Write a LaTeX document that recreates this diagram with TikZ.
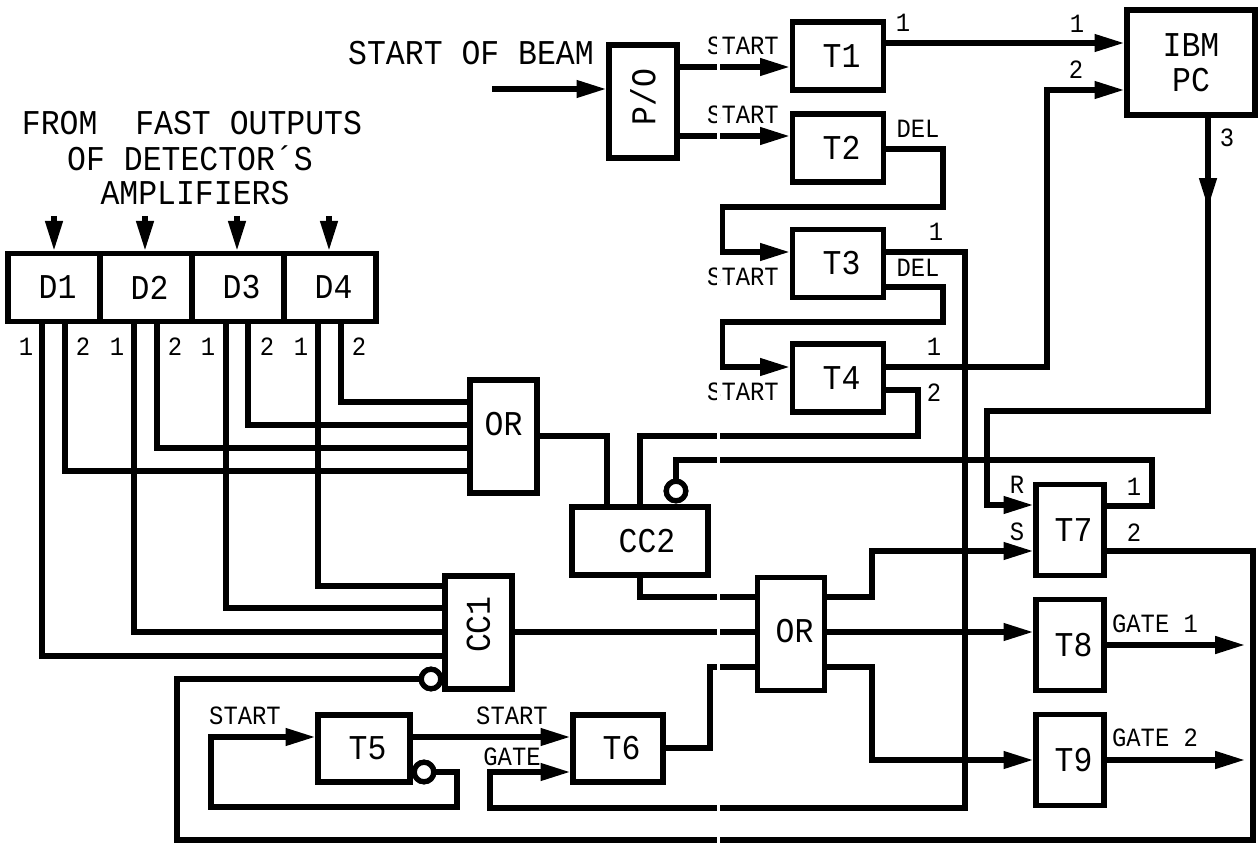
\documentclass[tikz,border=0pt]{standalone}
\usepackage{fontspec}
\usepackage{tikz}
\usetikzlibrary{arrows.meta,calc,positioning}
\newfontfamily\plotfont[FakeStretch=0.905]{Liberation Mono}
\newcommand{\nudge}{\hspace*{4pt}}

\begin{document}
\begin{tikzpicture}[x=0.02cm, y=-0.02cm,
    sig/.style={line width=3pt, line join=miter},
    sigarrow/.style={sig, -{Triangle[length=17pt,width=9.5pt]}},
    blockbox/.style={draw, rectangle, line width=3pt, inner sep=0pt, font=\plotfont\fontsize{19.8}{20}\selectfont},
    sized/.style 2 args={minimum width=#1*0.02cm, minimum height=#2*0.02cm},
    bubble/.style={draw, circle, line width=3pt, fill=white, inner sep=0pt, minimum size=0.39cm},
    tag/.style={inner sep=0pt, font=\plotfont\fontsize{15}{15}\selectfont},
    num/.style={inner sep=0pt, font=\plotfont\fontsize{15}{15}\selectfont},
    head/.style={inner sep=0pt, font=\plotfont\fontsize{19.8}{20}\selectfont}]
  \useasboundingbox (0,0) rectangle (1260,844);

  % Blocks
  \node[blockbox, sized={68}{113}] (po) at (643,101.5) {\rotatebox{90}{\hspace*{5pt}P/O}};
  \node[blockbox, sized={91}{68}] (t1) at (838,56) {\nudge T1};
  \node[blockbox, sized={91}{68}] (t2) at (838,148) {\nudge T2};
  \node[blockbox, sized={91}{68}] (t3) at (838,263.5) {\nudge T3};
  \node[blockbox, sized={91}{68}] (t4) at (838,378) {\nudge T4};
  \node[blockbox, sized={128}{105}, align=center] (ibm) at (1191,62.5) {IBM\\PC};
  \node[blockbox, sized={92}{68}] (d1) at (54,287.5) {\nudge D1};
  \node[blockbox, sized={92}{68}] (d2) at (146,287.5) {\nudge D2};
  \node[blockbox, sized={92}{68}] (d3) at (238,287.5) {\nudge D3};
  \node[blockbox, sized={92}{68}] (d4) at (330,287.5) {\nudge D4};
  \node[blockbox, sized={67}{113}, text depth=14pt] (orup) at (503.5,436.5) {OR};
  \node[blockbox, sized={136}{68}] (cc2) at (640,541) {\nudge\nudge CC2};
  \node[blockbox, sized={67}{113}] (cc1) at (478.5,632.5) {\rotatebox{90}{\hspace*{9pt}CC1}};
  \node[blockbox, sized={67}{113}, text depth=4pt] (orlow) at (791,634) {\nudge OR};
  \node[blockbox, sized={68}{91}] (t7) at (1070,530) {\nudge T7};
  \node[blockbox, sized={68}{91}] (t8) at (1070,645) {\nudge T8};
  \node[blockbox, sized={68}{91}] (t9) at (1070,760) {\nudge T9};
  \node[blockbox, sized={92}{67}] (t5) at (364,748.5) {\nudge T5};
  \node[blockbox, sized={90}{67}] (t6) at (618,748.5) {\nudge T6};

  % Inverting inputs and outputs
  \node[bubble] (cc2not) at (676,491) {};
  \node[bubble] (cc1not) at (431,679) {};
  \node[bubble] (t5not) at (424,772) {};

  % Free ends
  \coordinate (beam) at (492,89);
  \coordinate (ibmdown) at (1208,208);
  \coordinate (gateone) at (1245,645);
  \coordinate (gatetwo) at (1245,760);
  \coordinate (dinone) at (54,216);
  \coordinate (dintwo) at (145,216);
  \coordinate (dinthree) at (237,216);
  \coordinate (dinfour) at (329,216);

  % Input side
  \draw[sigarrow] (beam) -- (po.west |- beam);
  \draw[sigarrow] (dinone) -- (dinone |- d1.north);
  \draw[sigarrow] (dintwo) -- (dintwo |- d2.north);
  \draw[sigarrow] (dinthree) -- (dinthree |- d3.north);
  \draw[sigarrow] (dinfour) -- (dinfour |- d4.north);

  % Timers
  \draw[sigarrow] (po.east |- 0,67) -- (t1.west |- 0,67);
  \draw[sigarrow] (po.east |- 0,136) -- (t2.west |- 0,136);
  \draw[sigarrow] (t1.east |- 0,43) -- (ibm.west |- 0,43);
  \draw[sigarrow] (t2.east |- 0,149) -- (943,149) -- (943,207) -- (722.5,207) -- (722.5,252) -- (t3.west |- 0,252);
  \draw[sigarrow] (t3.east |- 0,287) -- (943,287) -- (943,322) -- (722.5,322) -- (722.5,367) -- (t4.west |- 0,367);
  \draw[sigarrow] (t4.east |- 0,367) -- (1047,367) -- (1047,90) -- (ibm.west |- 0,90);
  \draw[sig] (t4.east |- 0,390) -- (918,390) -- (918,436) -- (640,436) -- (640,506);
  \draw[sigarrow] (t3.east |- 0,252) -- (965,252) -- (965,808) -- (490,808) -- (490,772) -- (t6.west |- 0,772);
  \draw[sigarrow] (ibm.south -| ibmdown) -- (ibmdown);
  \draw[sigarrow] (ibm.south -| ibmdown) -- (1208,411) -- (987,411) -- (987,505) -- (t7.west |- 0,505);

  % Detector outputs
  \draw[sig] (42,322) -- (42,656) -- (cc1.west |- 0,656);
  \draw[sig] (134,322) -- (134,632) -- (cc1.west |- 0,632);
  \draw[sig] (226,322) -- (226,608) -- (cc1.west |- 0,608);
  \draw[sig] (318,322) -- (318,586) -- (cc1.west |- 0,586);
  \draw[sig] (65,322) -- (65,471) -- (orup.west |- 0,471);
  \draw[sig] (157,322) -- (157,448) -- (orup.west |- 0,448);
  \draw[sig] (248,322) -- (248,425) -- (orup.west |- 0,425);
  \draw[sig] (341,322) -- (341,402) -- (orup.west |- 0,402);

  % Coincidence and gates
  \draw[sig] (orup.east |- 0,436) -- (607,436) -- (607,506);
  \draw[sig] (cc2not) -- (676,460) -- (1152,460) -- (1152,506) -- (t7.east |- 0,506);
  \draw[sig] (t7.east |- 0,551) -- (1253,551) -- (1253,840) -- (177,840) -- (177,679) -- (cc1not);
  \draw[sig] (640,576) -- (640,597) -- (orlow.west |- 0,597);
  \draw[sig] (cc1.east |- 0,632) -- (orlow.west |- 0,632);
  \draw[sig] (t6.east |- 0,748) -- (710,748) -- (710,667) -- (orlow.west |- 0,667);
  \draw[sigarrow] (orlow.east |- 0,597) -- (872,597) -- (872,551) -- (t7.west |- 0,551);
  \draw[sigarrow] (orlow.east |- 0,632) -- (t8.west |- 0,632);
  \draw[sigarrow] (orlow.east |- 0,667) -- (872,667) -- (872,760) -- (t9.west |- 0,760);
  \draw[sigarrow] (t8.east |- gateone) -- (gateone);
  \draw[sigarrow] (t9.east |- gatetwo) -- (gatetwo);
  \draw[sigarrow] (t5.east |- 0,737) -- (t6.west |- 0,737);
  \draw[sigarrow] (t5not) -- (457,772) -- (457,807) -- (211,807) -- (211,737) -- (t5.west |- 0,737);
  \node[bubble] at (cc2not) {};
  \node[bubble] at (cc1not) {};
  \node[bubble] at (t5not) {};

  % Headings
  \node[head] (beamtext) at (471,53) {START OF BEAM};
  \node[head] (fromtext) at (192,123) {FROM\ \ FAST OUTPUTS};
  \node[head] (oftext) at (190,158) {OF DETECTOR´S};
  \node[head] (amptext) at (195,193) {AMPLIFIERS};

  % Signal names
  \node[tag] (sone) at (743,46) {START};
  \node[tag] (stwo) at (743,115) {START};
  \node[tag] (sthree) at (743,277) {START};
  \node[tag] (sfour) at (743,392) {START};
  \node[tag] (sfive) at (245,716) {START};
  \node[tag] (ssix) at (512,716) {START};
  \node[tag] (gatein) at (512,757) {GATE};
  \node[tag] (delone) at (918,129) {DEL};
  \node[tag] (deltwo) at (918,268) {DEL};
  \node[tag] (gatea) at (1155,624) {GATE 1};
  \node[tag] (gateb) at (1155,738) {GATE 2};
  \node[tag] (rpin) at (1017,485) {R};
  \node[tag] (spin) at (1017,532) {S};

  % Pin numbers
  \node[num] (na) at (903,23) {1};
  \node[num] (nb) at (1077,24) {1};
  \node[num] (nc) at (1076,70) {2};
  \node[num] (nd) at (936,232) {1};
  \node[num] (ne) at (934,347) {1};
  \node[num] (nf) at (934,393) {2};
  \node[num] (ng) at (1227,138) {3};
  \node[num] (nh) at (1134,487) {1};
  \node[num] (ni) at (1134,533) {2};
  \node[num] (da) at (26,347) {1};
  \node[num] (db) at (83,347) {2};
  \node[num] (dc) at (117,347) {1};
  \node[num] (dd) at (175,347) {2};
  \node[num] (de) at (208,347) {1};
  \node[num] (df) at (267,347) {2};
  \node[num] (dg) at (301,347) {1};
  \node[num] (dh) at (359,347) {2};

  % Break in the sheet
  \draw[white, line width=2pt] (718.5,30) -- (718.5,844);
\end{tikzpicture}
\end{document}
